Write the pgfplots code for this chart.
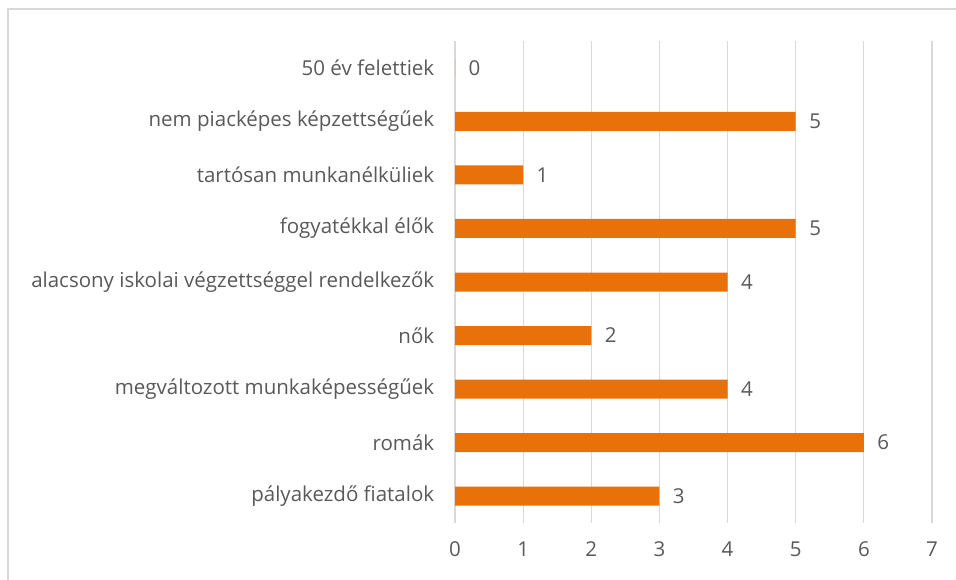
\documentclass[border=0pt]{standalone}
\usepackage{pgfplots}
\pgfplotsset{compat=1.18}
\usepackage{fontspec}
\setmainfont{Open Sans}
\definecolor{barorange}{HTML}{E8710A}
\definecolor{txtgray}{HTML}{595959}
\definecolor{gridgray}{HTML}{D9D9D9}

\begin{document}
\begin{tikzpicture}
\path[use as bounding box] (0pt,0pt) rectangle (956pt,579pt);
% chart frame (only left and top edges are visible)
\draw[gridgray, line width=1.5pt] (8pt,-5pt) -- (8pt,570pt) -- (965pt,570pt);
\begin{axis}[
    at={(455pt,56pt)}, anchor=south west,
    scale only axis,
    width=477pt, height=482pt,
    xbar,
    bar width=19pt,
    xmin=0, xmax=7,
    ymin=-0.5, ymax=8.5,
    xtick={0,...,7},
    ytick={0,...,8},
    yticklabels={pályakezdő fiatalok, romák, megváltozott munkaképességűek, nők,
        alacsony iskolai végzettséggel rendelkezők, fogyatékkal élők,
        tartósan munkanélküliek, nem piacképes képzettségűek, 50 év felettiek},
    axis line style={draw=none},
    tick style={draw=none},
    xmajorgrids,
    grid style={gridgray, line width=1.2pt},
    ticklabel style={font=\fontsize{20.5}{24}\selectfont, text=txtgray},
    /pgf/number format/assume math mode=true,
    xticklabel style={yshift=-15pt},
    yticklabel style={xshift=-13pt},
    point meta=x,
    nodes near coords,
    nodes near coords style={anchor=west, xshift=10pt,
        font=\fontsize{20.5}{24}\selectfont, text=txtgray},
]
\addplot[fill=barorange, draw=none] coordinates {
    (3,0) (6,1) (4,2) (2,3) (4,4) (5,5) (1,6) (5,7) (0,8)
};
\end{axis}
\end{tikzpicture}
\end{document}
